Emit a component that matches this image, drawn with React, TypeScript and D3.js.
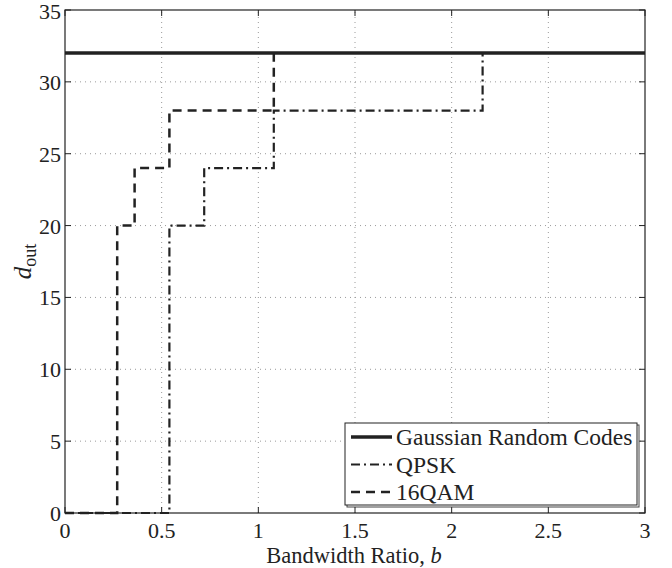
import React, { useEffect, useRef } from "react";
import * as d3 from "d3";

// step points
const qpskX = [0, 0.54, 0.54, 0.72, 0.72, 1.08, 1.08, 2.16, 2.16];
const qpskY = [0, 0, 20, 20, 24, 24, 28, 28, 32];
const qamX = [0, 0.27, 0.27, 0.36, 0.36, 0.54, 0.54, 1.08, 1.08];
const qamY = [0, 0, 20, 20, 24, 24, 28, 28, 32];
const gaussX = [0, 3];
const gaussY = [32, 32];
const xTicks = [0, 0.5, 1, 1.5, 2, 2.5, 3];
const yTicks = [0, 5, 10, 15, 20, 25, 30, 35];
const legendNames = ["Gaussian Random Codes", "QPSK", "16QAM"];

export default function App() {
    const ref = useRef<SVGSVGElement>(null);
    useEffect(() => {
        const svg = d3.select(ref.current);
        svg.selectAll("*").remove();
        const margin = { top: 10, left: 65, right: 27, bottom: 55 };
        const width = 672;
        const height = 568;
        const font = "'Liberation Serif', 'DejaVu Serif', serif";

        const x = d3.scaleLinear().domain([0, 3]).range([margin.left, width - margin.right]);
        const y = d3.scaleLinear().domain([0, 35]).range([height - margin.bottom, margin.top]);

        svg.append("rect").attr("width", width).attr("height", height).attr("fill", "white");

        // grid
        const grid = svg.append("g").attr("stroke", "#9a9a9a").attr("stroke-width", 1).attr("stroke-dasharray", "1,4");
        xTicks.slice(1, -1).forEach((t) => {
            grid.append("line").attr("x1", x(t)).attr("x2", x(t)).attr("y1", y(0)).attr("y2", y(35));
        });
        yTicks.slice(1, -1).forEach((t) => {
            grid.append("line").attr("x1", x(0)).attr("x2", x(3)).attr("y1", y(t)).attr("y2", y(t));
        });

        // tick marks inside the box
        const ticks = svg.append("g").attr("stroke", "#222").attr("stroke-width", 1);
        xTicks.forEach((t) => {
            ticks.append("line").attr("x1", x(t)).attr("x2", x(t)).attr("y1", y(0)).attr("y2", y(0) - 6);
            ticks.append("line").attr("x1", x(t)).attr("x2", x(t)).attr("y1", y(35)).attr("y2", y(35) + 6);
        });
        yTicks.forEach((t) => {
            ticks.append("line").attr("x1", x(0)).attr("x2", x(0) + 6).attr("y1", y(t)).attr("y2", y(t));
            ticks.append("line").attr("x1", x(3)).attr("x2", x(3) - 6).attr("y1", y(t)).attr("y2", y(t));
        });

        const drawStep = (xs: number[], ys: number[], dash: string | null, w: number) => {
            const pts: [number, number][] = xs.map((v, i) => [x(v), y(ys[i])]);
            const p = svg
                .append("path")
                .attr("d", d3.line()(pts))
                .attr("fill", "none")
                .attr("stroke", "#222")
                .attr("stroke-width", w);
            if (dash) p.attr("stroke-dasharray", dash);
        };

        drawStep(qpskX, qpskY, "9,4,2,4", 2.2);
        drawStep(qamX, qamY, "9,6", 2.5);
        drawStep(gaussX, gaussY, null, 3.5);

        // box
        svg.append("rect")
            .attr("x", x(0)).attr("y", y(35))
            .attr("width", x(3) - x(0)).attr("height", y(0) - y(35))
            .attr("fill", "none").attr("stroke", "#222").attr("stroke-width", 1.2);

        // tick labels
        svg.append("g").selectAll("text").data(xTicks).join("text")
            .attr("x", (d) => x(d)).attr("y", y(0) + 25)
            .attr("text-anchor", "middle")
            .style("font-family", font).attr("font-size", 22).attr("fill", "#222")
            .text((d) => String(d));
        svg.append("g").selectAll("text").data(yTicks).join("text")
            .attr("x", x(0) - 4).attr("y", (d) => y(d) + (d === 35 ? 9 : 8))
            .attr("text-anchor", "end")
            .style("font-family", font).attr("font-size", 22).attr("fill", "#222")
            .text((d) => String(d));

        // axis labels
        const xl = svg.append("text")
            .attr("x", (x(0) + x(3)) / 2 - 1).attr("y", y(0) + 50)
            .attr("text-anchor", "middle")
            .style("font-family", font).attr("font-size", 22.5).attr("fill", "#222");
        xl.append("tspan").text("Bandwidth Ratio, ");
        xl.append("tspan").attr("font-style", "italic").text("b");

        const yl = svg.append("text")
            .attr("transform", `translate(31, ${(y(0) + y(35)) / 2}) rotate(-90)`)
            .attr("text-anchor", "middle")
            .style("font-family", font).attr("fill", "#222");
        yl.append("tspan").attr("font-style", "italic").attr("font-size", 25).text("d");
        yl.append("tspan").attr("font-size", 18).attr("dy", 5).text("out");

        // legend
        const lg = svg.append("g");
        const lx = 345, ly = 423, lw = 292, lh = 82;
        lg.append("rect").attr("x", lx + 2).attr("y", ly + 2).attr("width", lw).attr("height", lh)
            .attr("fill", "none").attr("stroke", "#444").attr("stroke-width", 1);
        lg.append("rect").attr("x", lx).attr("y", ly).attr("width", lw).attr("height", lh)
            .attr("fill", "white").attr("stroke", "#222").attr("stroke-width", 1);
        const styles = [
            { dash: null, w: 3.5 },
            { dash: "9,4,2,4", w: 2.2 },
            { dash: "9,6", w: 2.5 },
        ];
        legendNames.forEach((name, i) => {
            const yy = ly + 14 + i * 27.5;
            const l = lg.append("line").attr("x1", lx + 6).attr("x2", lx + 47).attr("y1", yy).attr("y2", yy)
                .attr("stroke", "#222").attr("stroke-width", styles[i].w);
            if (styles[i].dash) l.attr("stroke-dasharray", styles[i].dash);
            lg.append("text").attr("x", lx + 51).attr("y", yy + 8)
                .style("font-family", font).attr("font-size", 23.5).attr("fill", "#222")
                .text(name);
        });
    }, []);
    return (
        <svg ref={ref} width={672} height={568} style={{ display: "block", position: "absolute", left: 0, top: 0 }} />
    );
}
